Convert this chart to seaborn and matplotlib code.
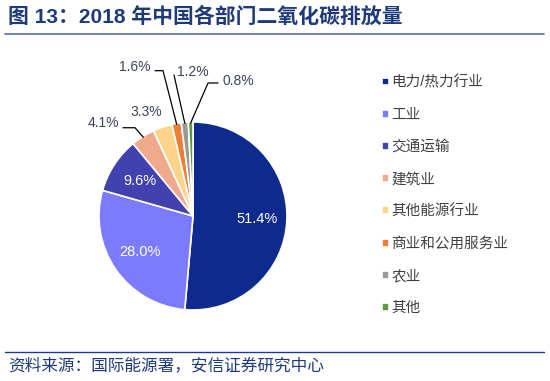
import numpy as np
import matplotlib
matplotlib.use("Agg")
import matplotlib.pyplot as plt
import seaborn as sns

# data
categories = ["电力/热力行业", "工业", "交通运输", "建筑业", "其他能源行业",
              "商业和公用服务业", "农业", "其他"]
shares = [51.4, 28.0, 9.6, 4.1, 3.3, 1.6, 1.2, 0.8]
colors = ["#0E2A8E", "#7B7BFF", "#4141AF", "#F0A98D", "#FFD38A",
          "#EE7E33", "#999999", "#5C9B3E"]

title = "图 13：2018 年中国各部门二氧化碳排放量"
source = "资料来源：国际能源署，安信证券研究中心"

sns.set_theme(style="white")
plt.rcParams["font.family"] = ["Liberation Sans", "Noto Sans CJK SC", "DejaVu Sans"]

W, H = 550, 381
fig = plt.figure(figsize=(W / 100, H / 100), dpi=100)

# pie axes: centre (193, 216) px, radius 94 px
cx, cy, r = 193, 216, 94
ax = fig.add_axes([(cx - r) / W, (H - cy - r) / H, 2 * r / W, 2 * r / H])
wedges, _ = ax.pie(shares, colors=colors, startangle=90, counterclock=False,
                   wedgeprops=dict(edgecolor="white", linewidth=1.2))
ax.set_xlim(-1, 1)
ax.set_ylim(-1, 1)
ax.axis("off")

mids = [np.deg2rad((w.theta1 + w.theta2) / 2) for w in wedges]

# labels inside the big slices
for i in range(3):
    ax.text(0.68 * np.cos(mids[i]), 0.68 * np.sin(mids[i]), f"{shares[i]:.1f}%",
            color="white", fontsize=10.5, ha="center", va="center")

# labels outside the small slices, with leader lines (pie radius units)
outer = {
    3: ((-0.787, 0.989), "right", [(-0.745, 0.939), (-0.617, 0.939)]),
    4: ((-0.50, 1.106), "center", []),
    5: ((-0.447, 1.585), "right", [(-0.404, 1.546), (-0.319, 1.546)]),
    6: ((-0.17, 1.53), "left", [(-0.202, 1.50)]),
    7: ((0.309, 1.436), "left", [(0.266, 1.415), (0.16, 1.415)]),
}
for i, (pos, ha, path) in outer.items():
    ax.text(pos[0], pos[1], f"{shares[i]:.1f}%", color="#3A4557", fontsize=10,
            ha=ha, va="center", clip_on=False)
    if path:
        pts = path + [(0.99 * np.cos(mids[i]), 0.99 * np.sin(mids[i]))]
        xs, ys = zip(*pts)
        ax.plot(xs, ys, color="black", lw=0.9, clip_on=False)

# legend
fig.legend(wedges, categories, loc="upper left",
           bbox_to_anchor=(369 / W, 1 - 62 / H), frameon=False, fontsize=10.5,
           handlelength=0.45, handleheight=0.45, handletextpad=0.2,
           labelspacing=1.25, labelcolor="#404040")

# title, rules, source
fig.text(8 / W, 1 - 17 / H, title, fontsize=15, fontweight="bold",
         color="#1F3A7A", va="center")
fig.add_artist(plt.Line2D([5 / W, 544 / W], [1 - 33.5 / H] * 2, color="#4F6FB5", lw=1.2))
fig.add_artist(plt.Line2D([5 / W, 544 / W], [1 - 352 / H] * 2, color="#1F3A8A", lw=1.0))
fig.text(8 / W, 1 - 365 / H, source, fontsize=12, color="#1F3A7A", va="center")

fig.savefig("out.png", dpi=100)
